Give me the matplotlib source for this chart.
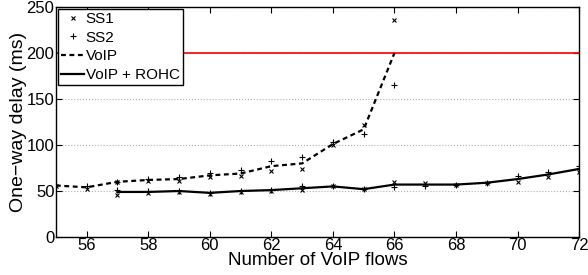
import matplotlib
matplotlib.use("Agg")
import matplotlib.pyplot as plt

plt.rcParams['font.family'] = ['Liberation Sans', 'DejaVu Sans']

# VoIP (no header compression)
flows_voip = [55, 56, 57, 58, 59, 60, 61, 62, 63, 64, 65, 66]
voip_mean = [56, 54, 60, 62, 63, 67, 69, 77, 80, 101, 117, 200]
voip_ss1 = [55, 52, 60, 61, 61, 65, 66, 72, 74, 100, 122, 236]
voip_ss2 = [57, 55, 60, 63, 65, 70, 73, 83, 87, 103, 112, 165]

# VoIP + ROHC
flows_rohc = [57, 58, 59, 60, 61, 62, 63, 64, 65, 66, 67, 68, 69, 70, 71, 72]
rohc_mean = [49, 49, 50, 48, 50, 51, 53, 55, 52, 57, 57, 57, 59, 63, 68, 74]
rohc_ss1 = [46, 48, 49, 47, 49, 50, 51, 55, 52, 60, 59, 57, 59, 60, 65, 71]
rohc_ss2 = [51, 50, 50, 48, 50, 51, 55, 55, 52, 54, 55, 57, 59, 66, 71, 77]

delay_limit = 200

fig = plt.figure(figsize=(5.88, 2.75), dpi=100)
ax = fig.add_axes([0.095, 0.138, 0.89, 0.837])

# grid lines (y only, dotted grey)
ax.yaxis.grid(True, linestyle=':', color='#b0b0b0', linewidth=0.8)
ax.set_axisbelow(True)

ax.axhline(delay_limit, color='#ff0000', linewidth=1.2, zorder=1)

ax.plot(flows_voip, voip_ss1, 'x', color='black', markersize=3, markeredgewidth=0.8, label='SS1')
ax.plot(flows_voip, voip_ss2, '+', color='black', markersize=4, markeredgewidth=0.8, label='SS2')
ax.plot(flows_voip, voip_mean, '--', color='black', linewidth=1.6, dashes=(2.2, 1.6), label='VoIP')
ax.plot(flows_rohc, rohc_mean, '-', color='black', linewidth=1.6, label='VoIP + ROHC')
ax.plot(flows_rohc, rohc_ss1, 'x', color='black', markersize=3, markeredgewidth=0.8)
ax.plot(flows_rohc, rohc_ss2, '+', color='black', markersize=4, markeredgewidth=0.8)

ax.set_xlim(55, 72)
ax.set_ylim(0, 250)
ax.set_xticks(range(56, 73, 2))
ax.set_yticks(range(0, 251, 50))
ax.tick_params(direction='in', top=True, right=True, labelsize=12, length=4, pad=1)
for s in ax.spines.values():
    s.set_linewidth(1.0)

ax.set_xlabel('Number of VoIP flows', fontsize=13.5, labelpad=-1)
ax.set_ylabel('One\u2212way delay (ms)', fontsize=14, labelpad=0)

leg = ax.legend(loc='upper left', fontsize=11, frameon=True, fancybox=False,
                edgecolor='black', framealpha=1, borderpad=0.2, labelspacing=0.3,
                handlelength=1.5, handletextpad=0.1, borderaxespad=0.15)
leg.get_frame().set_linewidth(1.0)

fig.savefig('out.png', dpi=100)
